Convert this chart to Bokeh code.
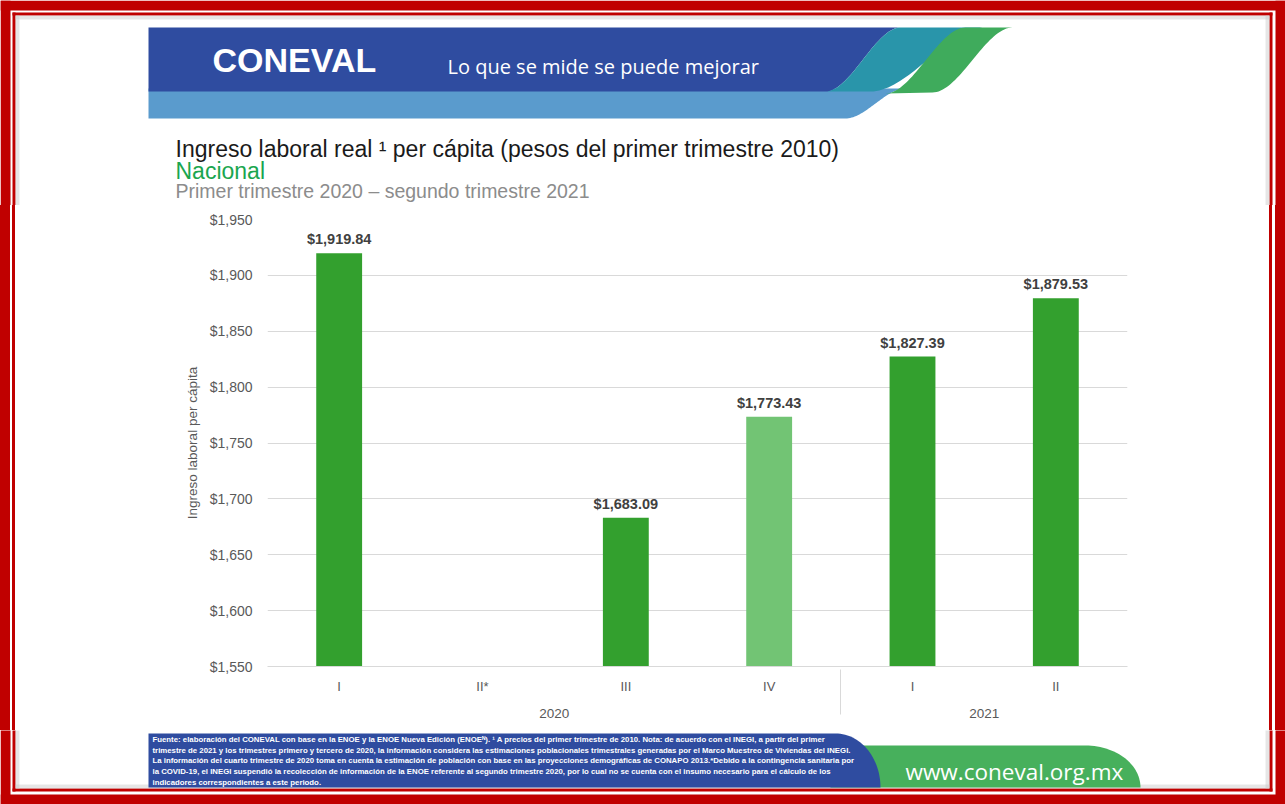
import numpy as np
from bokeh.plotting import figure
from bokeh.layouts import column, row
from bokeh.models import (FactorRange, Range1d, FixedTicker, NumeralTickFormatter,
                          ColumnDataSource, Div)
from bokeh.core.properties import value
from bokeh.embed import file_html
from bokeh.resources import INLINE

# ---------------- data ----------------
years = ["2020", "2020", "2020", "2020", "2021", "2021"]
quarters = ["I", "II*", "III", "IV", "I", "II"]
income = [1919.84, None, 1683.09, 1773.43, 1827.39, 1879.53]
y_ticks = [1550, 1600, 1650, 1700, 1750, 1800, 1850, 1900, 1950]
y_min, y_max = 1550, 1950

title_main = "Ingreso laboral real \u00b9 per cápita (pesos del primer trimestre 2010)"
title_geo = "Nacional"
title_period = "Primer trimestre 2020 \u2013 segundo trimestre 2021"
y_title = "Ingreso laboral per cápita"
footnote = [
    "Fuente: elaboración del CONEVAL con base en la ENOE y la ENOE Nueva Edición (ENOE\u1d3a). \u00b9 A precios del primer trimestre de 2010. Nota: de acuerdo con el INEGI, a partir del primer",
    "trimestre de 2021 y los trimestres primero y tercero de 2020, la información considera las estimaciones poblacionales trimestrales generadas por el Marco Muestreo de Viviendas del INEGI.",
    "La información del cuarto trimestre de 2020 toma en cuenta la estimación de población con base en las proyecciones demográficas de CONAPO 2013.*Debido a la contingencia sanitaria por",
    "la COVID-19, el INEGI suspendió la recolección de información de la ENOE referente al segundo trimestre 2020, por lo cual no se cuenta con el insumo necesario para el cálculo de los",
    "indicadores correspondientes a este periodo.",
]
logo_text = "CONEVAL"
tagline = "Lo que se mide se puede mejorar"
website = "www.coneval.org.mx"

# ---------------- layout constants (page pixels) ----------------
W, H = 1285, 804
HEAD_B = 205          # header figure bottom
FOOT_T = 730          # footer figure top
SIDE = 20             # side strip width
FR_L, FR_R, FR_T, FR_B = 267, 1127, 219, 666   # chart frame

ARIAL = "Liberation Sans, Arial, sans-serif"
RED = "#c00000"
DBLUE = "#2f4ca0"


def deco_fig(x0, x1, y0, y1):
    f = figure(width=x1 - x0, height=y1 - y0,
               x_range=Range1d(x0, x1), y_range=Range1d(y1, y0),
               output_backend="svg", toolbar_location=None,
               x_axis_location=None, y_axis_location=None,
               min_border=0, min_border_left=0, min_border_right=0,
               min_border_top=0, min_border_bottom=0,
               background_fill_color="white", border_fill_color="white",
               outline_line_color=None)
    f.xgrid.visible = False
    f.ygrid.visible = False
    strips = [
        (0, W, 0, 10, RED, 1), (0, 10, 0, H, RED, 1), (W - 10, W, 0, H, RED, 1), (0, W, H - 10, H, RED, 1),
        (12, 1272, 12, 15, RED, 1), (12, 15, 12, 791, RED, 1), (1269, 1272, 12, 791, RED, 1), (12, 1272, 788, 791, RED, 1),
        (15, 1269, 15, 19, "#c8c8c8", 0.45), (15, 19, 15, 788, "#c8c8c8", 0.45),
        (1265, 1269, 15, 788, "#c8c8c8", 0.45), (15, 1269, 784, 788, "#c8c8c8", 0.45),
    ]
    for l, r, t, b, c, a in strips:
        f.quad(left=l, right=r, top=t, bottom=b, fill_color=c, fill_alpha=a, line_color=None)
    return f


def solid_block(w, h, color):
    return Div(text="", width=w, height=h, margin=0,
               styles={"background-color": color})


def wave(x0, y0, x1, y1, n=40):
    t = np.linspace(0, 1, n)
    s = 3 * t ** 2 - 2 * t ** 3
    return list(x0 + (x1 - x0) * t), list(y0 + (y1 - y0) * s)


def put_text(f, x, y, s, size, color, font=ARIAL, style="normal", align="left"):
    f.text(x=[x], y=[y], text=[s], text_font=value(font), text_font_size=f"{size}px",
           text_color=color, text_font_style=style, text_align=align,
           text_baseline="middle")


# ---------------- header ----------------
head = deco_fig(0, W, 0, HEAD_B)
xs, ys = wave(845, 118, 905, 88)
head.patch([148] + xs + [148], [118] + ys + [88], fill_color="#5a9bcd", line_color=None)
xs, ys = wave(825, 91, 900, 27)
head.patch([148] + xs + [148], [91] + ys + [27], fill_color=DBLUE, line_color=None)
xl, yl = wave(825, 91, 900, 27)
xr, yr = wave(985, 27, 870, 91)
head.patch(xl + xr, yl + yr, fill_color="#2995aa", line_color=None)
xl, yl = wave(885, 93, 965, 27)
xr, yr = wave(1012, 27, 932, 92)
head.patch(xl + xr, yl + yr, fill_color="#3fab5c", line_color=None)

put_text(head, 212, 59, logo_text, 34, "white", ARIAL, "bold")
put_text(head, 447, 66, tagline, 20, "white", "Open Sans")
put_text(head, 175, 148, title_main, 23, "#1a1a1a", ARIAL)
put_text(head, 175, 170, title_geo, 23, "#1aa64f", ARIAL)
put_text(head, 175, 190, title_period, 19.5, "#8c8c8c", ARIAL)

# ---------------- side strips (solid columns) ----------------
mid_h = FOOT_T - HEAD_B
left_cols = [solid_block(w, mid_h, c) for w, c in
             [(10, RED), (2, "white"), (3, RED), (5, "white")]]
right_cols = [solid_block(w, mid_h, c) for w, c in
              [(4, "white"), (3, RED), (3, "white"), (10, RED)]]

# ---------------- main chart ----------------
factors = list(zip(years, quarters))
bar_x = [f for f, v in zip(factors, income) if v is not None]
bar_top = [v for v in income if v is not None]
bar_q = [q for q, v in zip(quarters, income) if v is not None]
bar_color = ["#72c474" if q == "IV" else "#33a02e" for q in bar_q]
bar_text = ["${:,.2f}".format(v) for v in bar_top]
src = ColumnDataSource(dict(x=bar_x, top=bar_top, color=bar_color, label=bar_text))

main_w = W - 2 * SIDE
p = figure(width=main_w, height=mid_h,
           x_range=FactorRange(*factors, factor_padding=0, group_padding=0,
                               subgroup_padding=0, range_padding=0),
           y_range=Range1d(y_min, y_max),
           output_backend="svg", toolbar_location=None,
           min_border_left=FR_L - SIDE, min_border_right=(W - SIDE) - FR_R,
           min_border_top=FR_T - HEAD_B, min_border_bottom=FOOT_T - FR_B,
           background_fill_color="white", border_fill_color="white",
           outline_line_color=None)

p.vbar(x="x", top="top", bottom=y_min, width=0.32, source=src,
       fill_color="color", line_color=None)
p.text(x="x", y="top", text="label", source=src, y_offset=-6,
       text_align="center", text_baseline="bottom",
       text_font=value(ARIAL), text_font_style="bold",
       text_font_size="14.5px", text_color="#404040")

p.yaxis.ticker = FixedTicker(ticks=y_ticks)
p.yaxis.formatter = NumeralTickFormatter(format="$0,0")
p.yaxis.axis_line_color = None
p.yaxis.major_tick_line_color = None
p.yaxis.major_tick_out = 0
p.yaxis.major_tick_in = 0
p.yaxis.minor_tick_line_color = None
p.yaxis.major_label_standoff = 15
p.yaxis.major_label_text_font = ARIAL
p.yaxis.major_label_text_font_size = "14px"
p.yaxis.major_label_text_color = "#595959"
p.yaxis.axis_label = y_title
p.yaxis.axis_label_text_font = ARIAL
p.yaxis.axis_label_text_font_style = "normal"
p.yaxis.axis_label_text_font_size = "13.5px"
p.yaxis.axis_label_text_color = "#595959"
p.yaxis.axis_label_standoff = 7

p.xaxis.axis_line_color = "#d9d9d9"
p.xaxis.major_tick_line_color = None
p.xaxis.major_tick_out = 0
p.xaxis.major_tick_in = 0
p.xaxis.minor_tick_line_color = None
p.xaxis.major_label_standoff = 12
p.xaxis.major_label_text_font = ARIAL
p.xaxis.major_label_text_font_size = "13px"
p.xaxis.major_label_text_color = "#595959"
p.xaxis.group_text_font = ARIAL
p.xaxis.group_text_font_size = "13.5px"
p.xaxis.group_text_font_style = "normal"
p.xaxis.group_text_color = "#595959"
p.xaxis.separator_line_color = "#d9d9d9"
p.xaxis.separator_line_width = 1

p.xgrid.grid_line_color = None
p.ygrid.grid_line_color = "#d9d9d9"
p.ygrid.grid_line_width = 1

# ---------------- footer ----------------
foot = deco_fig(0, W, FOOT_T, H)
th = np.linspace(0, np.pi / 2, 30)
gx = list(1085 + 55 * np.sin(th))
gy = list(787 - 42 * np.cos(th))
foot.patch([830] + gx + [830], [745] + gy + [787], fill_color="#47b05c", line_color=None)
bx = list(835 + 45 * np.sin(th))
by = list(787 - 54 * np.cos(th))
foot.patch([148] + bx + [148], [733] + by + [787], fill_color=DBLUE, line_color=None)
for i, line in enumerate(footnote):
    put_text(foot, 152, 739 + 10.7 * i, line, 7.8, "white", ARIAL, "bold")
put_text(foot, 905, 771, website, 22.5, "white", "Open Sans")

layout = column(head, row(*left_cols, p, *right_cols), foot)
open("out.html", "w").write(file_html(layout, INLINE))
